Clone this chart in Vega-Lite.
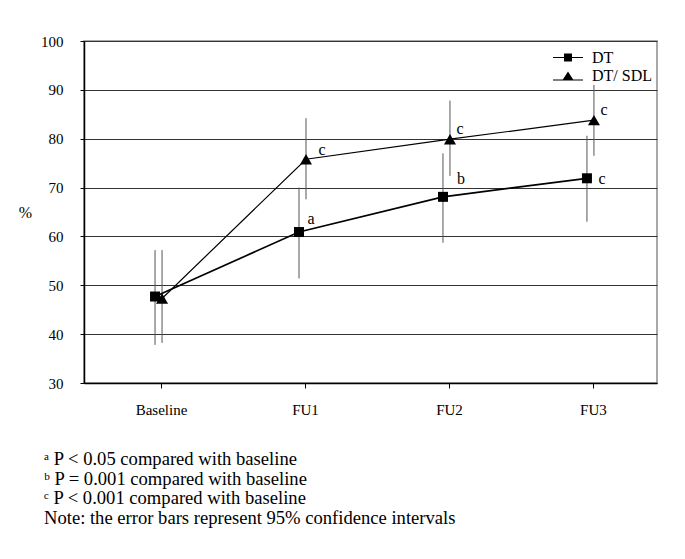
{
  "$schema": "https://vega.github.io/schema/vega-lite/v6.json",
  "width": 573,
  "height": 342,
  "autosize": {"type": "none"},
  "padding": {"left": 84, "top": 41, "right": 28, "bottom": 176},
  "background": "white",
  "config": {
    "view": {"stroke": "#8c8c8c", "strokeWidth": 1.5},
    "font": "Liberation Serif",
    "axis": {
      "labelFont": "Liberation Serif", "labelFontSize": 15, "labelColor": "black",
      "titleFont": "Liberation Serif", "titleFontWeight": "normal", "titleColor": "black",
      "domainColor": "black", "tickColor": "black", "gridColor": "#333333", "gridWidth": 1,
      "gridOpacity": 1
    },
    "axisX": {"grid": false, "labelAngle": 0, "tickSize": 5, "labelPadding": 14, "domainWidth": 1.5},
    "axisY": {"grid": true, "tickSize": 4, "labelPadding": 17, "titleAngle": 0, "titleX": -59, "titleY": 171,
      "titleAlign": "center", "titleBaseline": "middle", "titleFontSize": 16, "domainWidth": 1.5}
  },
  "title": {
    "text": ["ᵃ P < 0.05 compared with baseline", "ᵇ P = 0.001 compared with baseline", "ᶜ P < 0.001 compared with baseline", "Note: the error bars represent 95% confidence intervals"],
    "orient": "bottom", "anchor": "start", "frame": "group",
    "font": "Liberation Serif", "fontSize": 18.6, "fontWeight": "normal", "color": "black",
    "lineHeight": 19.6, "dx": -40, "offset": 33
  },
  "data": {"values": [
    {"time": "Baseline", "group": "DT", "mean": 47.7, "lo": 37.8, "hi": 57.2, "sig": ""},
    {"time": "FU1", "group": "DT", "mean": 60.9, "lo": 51.4, "hi": 70.0, "sig": "a"},
    {"time": "FU2", "group": "DT", "mean": 68.1, "lo": 58.7, "hi": 77.0, "sig": "b"},
    {"time": "FU3", "group": "DT", "mean": 71.9, "lo": 63.0, "hi": 80.6, "sig": "c"},
    {"time": "Baseline", "group": "DT/ SDL", "mean": 47.3, "lo": 38.2, "hi": 57.2, "sig": ""},
    {"time": "FU1", "group": "DT/ SDL", "mean": 75.8, "lo": 67.6, "hi": 84.2, "sig": "c"},
    {"time": "FU2", "group": "DT/ SDL", "mean": 79.9, "lo": 72.4, "hi": 87.8, "sig": "c"},
    {"time": "FU3", "group": "DT/ SDL", "mean": 83.8, "lo": 76.5, "hi": 91.0, "sig": "c"}
  ]},
  "encoding": {
    "x": {"field": "time", "type": "nominal", "title": null,
      "scale": {"type": "point", "domain": ["Baseline", "FU1", "FU2", "FU3"], "padding": 0.49, "align": 0.546}},
    "y": {"field": "mean", "type": "quantitative", "title": "%",
      "scale": {"domain": [30, 100], "nice": false, "zero": false},
      "axis": {"values": [30, 40, 50, 60, 70, 80, 90, 100]}}
  },
  "resolve": {"scale": {"shape": "independent"}, "legend": {"shape": "independent"}},
  "layer": [
    {
      "transform": [{"filter": "datum.group === 'DT'"}],
      "mark": {"type": "rule", "xOffset": -6, "color": "#555555", "strokeWidth": 1},
      "encoding": {
        "y": {"field": "lo", "type": "quantitative", "title": "%", "scale": {"domain": [30, 100], "nice": false, "zero": false},
          "axis": {"values": [30, 40, 50, 60, 70, 80, 90, 100]}},
        "y2": {"field": "hi"}
      }
    },
    {
      "transform": [{"filter": "datum.group === 'DT/ SDL'"}],
      "mark": {"type": "rule", "xOffset": 1, "color": "#555555", "strokeWidth": 1},
      "encoding": {
        "y": {"field": "lo", "type": "quantitative", "title": "%", "scale": {"domain": [30, 100], "nice": false, "zero": false},
          "axis": {"values": [30, 40, 50, 60, 70, 80, 90, 100]}},
        "y2": {"field": "hi"}
      }
    },
    {
      "transform": [{"filter": "datum.group === 'DT'"}],
      "mark": {"type": "line", "xOffset": -6, "color": "black", "strokeWidth": 1.7},
      "encoding": {}
    },
    {
      "transform": [{"filter": "datum.group === 'DT/ SDL'"}],
      "mark": {"type": "line", "xOffset": 1, "color": "black", "strokeWidth": 1.2},
      "encoding": {}
    },
    {
      "transform": [{"filter": "datum.group === 'DT'"}],
      "mark": {"type": "point", "xOffset": -6, "filled": true, "opacity": 1, "size": 100, "color": "black", "shape": "square"},
      "encoding": {}
    },
    {
      "transform": [{"filter": "datum.group === 'DT/ SDL'"}],
      "mark": {"type": "point", "xOffset": 1, "filled": true, "opacity": 1, "size": 144, "color": "black", "shape": "triangle-up"},
      "encoding": {}
    },
    {
      "transform": [{"filter": "false"}],
      "mark": {"type": "point", "filled": true, "opacity": 1, "color": "black"},
      "encoding": {
        "shape": {"field": "group", "type": "nominal",
          "scale": {"domain": ["DT", "DT/ SDL"], "range": [
            "M-2,-0.067H2V0.067H-2ZM-0.53,-0.53H0.53V0.53H-0.53Z",
            "M-2,0.463H2V0.597H-2ZM0,-0.6L0.73,0.53H-0.73Z"]},
          "legend": {"title": null, "orient": "none", "legendX": 475.5, "legendY": 8, "symbolSize": 225,
            "labelFontSize": 16, "labelFont": "Liberation Serif", "labelColor": "black", "labelOffset": 15.5,
            "symbolFillColor": "black", "symbolOpacity": 1,
            "padding": 0, "rowPadding": 1.5}
        }
      }
    },
    {
      "transform": [{"filter": "datum.group === 'DT' && datum.time === 'FU1'"}],
      "mark": {"type": "text", "xOffset": -6, "dx": 12, "dy": -13, "fontSize": 16, "font": "Liberation Serif", "color": "black"},
      "encoding": {"text": {"field": "sig"}}
    },
    {
      "transform": [{"filter": "datum.group === 'DT' && datum.time === 'FU2'"}],
      "mark": {"type": "text", "xOffset": -6, "dx": 18, "dy": -18, "fontSize": 16, "font": "Liberation Serif", "color": "black"},
      "encoding": {"text": {"field": "sig"}}
    },
    {
      "transform": [{"filter": "datum.group === 'DT' && datum.time === 'FU3'"}],
      "mark": {"type": "text", "xOffset": -6, "dx": 15, "dy": 1, "fontSize": 16, "font": "Liberation Serif", "color": "black"},
      "encoding": {"text": {"field": "sig"}}
    },
    {
      "transform": [{"filter": "datum.group === 'DT/ SDL' && datum.time === 'FU1'"}],
      "mark": {"type": "text", "xOffset": 1, "dx": 16, "dy": -9, "fontSize": 16, "font": "Liberation Serif", "color": "black"},
      "encoding": {"text": {"field": "sig"}}
    },
    {
      "transform": [{"filter": "datum.group === 'DT/ SDL' && datum.time !== 'FU1' && datum.time !== 'Baseline'"}],
      "mark": {"type": "text", "xOffset": 1, "dx": 10, "dy": -10, "fontSize": 16, "font": "Liberation Serif", "color": "black"},
      "encoding": {"text": {"field": "sig"}}
    }
  ]
}
